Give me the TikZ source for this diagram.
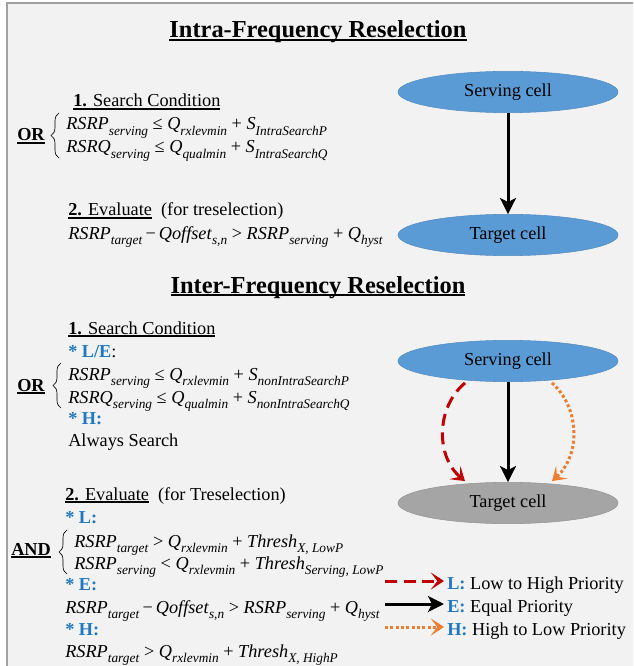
\documentclass[tikz,border=0pt]{standalone}
\usepackage{fontspec}
\setmainfont{Liberation Serif}
\usetikzlibrary{shapes.geometric,arrows.meta,positioning,calc,decorations.pathreplacing}

\definecolor{bgfill}{HTML}{F2F2F2}
\definecolor{framegray}{HTML}{A0A0A0}
\definecolor{cellblue}{HTML}{5B9BD5}
\definecolor{cellgray}{HTML}{A5A5A5}
\definecolor{keyblue}{HTML}{1F78C1}
\definecolor{lowred}{HTML}{C00000}
\definecolor{highorange}{HTML}{ED7D31}

\newcommand{\bodyfont}{\fontsize{13.7}{17}\selectfont}
\newcommand{\titlefont}{\fontsize{18.3}{22}\selectfont\bfseries}
\newcommand{\msr}[2]{\textit{#1}\raisebox{-3.8pt}{\fontsize{10}{11}\selectfont\textit{#2}}}
\newcommand{\uln}[2][0.9pt]{\setbox0=\hbox{#2}\rlap{\rule[-2pt]{\wd0}{#1}}\box0}
\newcommand{\prio}[1]{{\color{keyblue}\bfseries #1}}

\begin{document}
\begin{tikzpicture}[x=0.75pt, y=-0.75pt, >=Stealth,
  txt/.style={anchor=base west, inner sep=0pt, font=\bodyfont},
  heading/.style={anchor=base, inner sep=0pt, font=\titlefont},
  cell/.style={ellipse, minimum width=165pt, minimum height=31pt, inner sep=0pt,
    font=\bodyfont, draw=#1!90!black, fill=#1, line width=0.4pt},
  flow/.style={line width=2.25pt, -{Stealth[length=12pt,width=12pt,inset=3pt]}},
  lowhigh/.style={flow, lowred, dash pattern=on 9pt off 5pt,
    -{Stealth[length=10pt,width=13pt,inset=5pt]}},
  equal/.style={flow, black},
  highlow/.style={flow, highorange, dash pattern=on 2.2pt off 1.8pt,
    -{Stealth[length=10pt,width=13pt,inset=5pt]}},
  curly/.style={decorate, decoration={brace, amplitude=6pt}, line width=0.5pt}]

\useasboundingbox (0,0) rectangle (633,666);
\fill[white] (0,0) rectangle (633,666);
\fill[bgfill] (7,3) rectangle (633,666);
\draw[framegray, line width=1.2pt] (7,666) -- (7,3) -- (633,3);

% intra-frequency
\node[heading] (intra-title) at (318,38) {\uln[1.3pt]{Intra-Frequency Reselection}};
\node[txt] (intra-search) at (73,107) {\uln{\textbf{1.} Search Condition}};
\node[txt] (intra-cond-1) at (66,130) {\msr{RSRP}{serving} ≤ \msr{Q}{rxlevmin} + \msr{S}{IntraSearchP}};
\node[txt] (intra-cond-2) at (66,153) {\msr{RSRQ}{serving} ≤ \msr{Q}{qualmin} + \msr{S}{IntraSearchQ}};
\node[txt, font=\bodyfont\bfseries] (intra-or) at (17,141) {\uln{OR}};
\draw[curly] ($(intra-cond-2.base west)+(-7,5)$) -- ($(intra-cond-1.base west)+(-7,-17)$);

\node[txt] (intra-eval) at (68,216) {\uln{\textbf{2.} Evaluate}\ \ (for treselection)};
\node[txt] (intra-rule) at (68,239) {\msr{RSRP}{target}\,−\,\msr{Qoffset}{s,n} > \msr{RSRP}{serving} + \msr{Q}{hyst}};

\foreach \i/\ys/\yt/\c in {1/92/235/cellblue, 2/361/503/cellgray} {
  \node[cell=cellblue] (serving-\i) at (508,\ys) {Serving cell};
  \node[cell=\c] (target-\i) at (508,\yt) {Target cell};
}

\draw[equal] (serving-1) -- (target-1);

% inter-frequency
\node[heading] (inter-title) at (318,293) {\uln[1.3pt]{Inter-Frequency Reselection}};
\node[txt] (inter-search) at (68,334) {\uln{\textbf{1.} Search Condition}};
\node[txt] (inter-le) at (68,357) {\prio{* L/E}:};
\node[txt] (inter-cond-1) at (68,380) {\msr{RSRP}{serving} ≤ \msr{Q}{rxlevmin} + \msr{S}{nonIntraSearchP}};
\node[txt] (inter-cond-2) at (68,403) {\msr{RSRQ}{serving} ≤ \msr{Q}{qualmin} + \msr{S}{nonIntraSearchQ}};
\node[txt, font=\bodyfont\bfseries] (inter-or) at (17,391) {\uln{OR}};
\draw[curly] ($(inter-cond-2.base west)+(-7,5)$) -- ($(inter-cond-1.base west)+(-7,-17)$);
\node[txt] (inter-h) at (68,424) {\prio{* H:}};
\node[txt] (inter-always) at (68,446) {Always Search};

\node[txt] (inter-eval) at (65,500) {\uln{\textbf{2.} Evaluate}\ \ (for Treselection)};
\node[txt] (inter-l) at (65,523) {\prio{* L:}};
\node[txt] (inter-cond-3) at (74,547) {\msr{RSRP}{target} > \msr{Q}{rxlevmin} + \msr{Thresh}{X, LowP}};
\node[txt] (inter-cond-4) at (74,569) {\msr{RSRP}{serving} < \msr{Q}{rxlevmin} + \msr{Thresh}{Serving, LowP}};
\node[txt, font=\bodyfont\bfseries] (inter-and) at (11,555) {\uln{AND}};
\draw[curly] ($(inter-cond-4.base west)+(-7,5)$) -- ($(inter-cond-3.base west)+(-7,-17)$);
\node[txt] (inter-e) at (65,590) {\prio{* E:}};
\node[txt] (inter-rule-e) at (65,613) {\msr{RSRP}{target}\,−\,\msr{Qoffset}{s,n} > \msr{RSRP}{serving} + \msr{Q}{hyst}};
\node[txt] (inter-h2) at (65,635) {\prio{* H:}};
\node[txt] (inter-rule-h) at (65,657) {\msr{RSRP}{target} > \msr{Q}{rxlevmin} + \msr{Thresh}{X, HighP}};

\draw[equal] (serving-2) -- (target-2);
\draw[lowhigh] ($(serving-2.south)+(-43,1)$) to[bend right=50] ($(target-2.north)+(-43,-1)$);
\draw[highlow] ($(serving-2.south)+(44,1)$) to[bend left=48] ($(target-2.north)+(44,-1)$);

% legend
\foreach \s/\k/\t/\y [count=\i] in {lowhigh/L/Low to High Priority/589, equal/E/Equal Priority/612, highlow/H/High to Low Priority/635} {
  \node[txt] (legend-\i) at (447,\y) {\prio{\k:} \t};
  \coordinate (legend-tail-\i) at (385,\y-8);
  \draw[\s] (legend-tail-\i) -- ($(legend-\i.base west)+(-3,-8)$);
}

\end{tikzpicture}
\end{document}
